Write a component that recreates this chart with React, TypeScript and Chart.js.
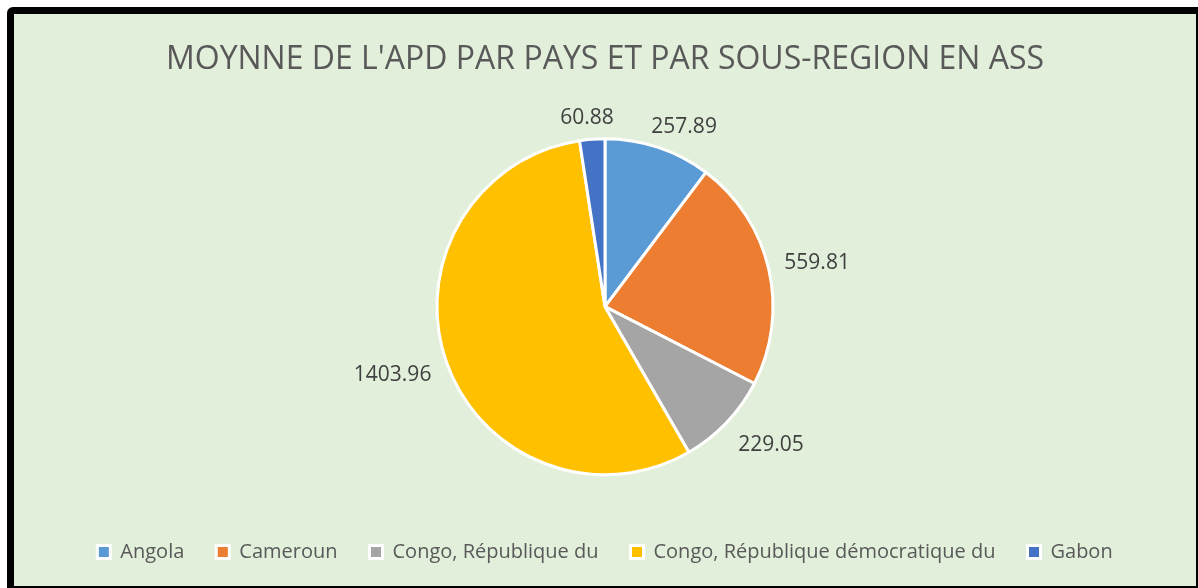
import React, { useEffect, useRef } from "react";
import { Chart, registerables } from "chart.js";

Chart.register(...registerables);

const TITLE = "MOYNNE DE L'APD PAR PAYS ET PAR SOUS-REGION EN ASS";
const countries = [
  "Angola",
  "Cameroun",
  "Congo, République du",
  "Congo, République démocratique du",
  "Gabon",
];
const values = [257.89, 559.81, 229.05, 1403.96, 60.88];
const colors = ["#5B9BD5", "#ED7D31", "#A5A5A5", "#FFC000", "#4472C4"];

const FONT = "'Open Sans', 'Noto Sans', sans-serif";

const clamp1 = (v: number) => Math.max(-1, Math.min(1, v));

const outsideLabels = {
  id: "outsideLabels",
  afterDatasetsDraw(chart: any) {
    const ctx = chart.ctx;
    const meta = chart.getDatasetMeta(0);
    const ds = chart.data.datasets[0];
    ctx.save();
    ctx.font = `21px ${FONT}`;
    ctx.fillStyle = "#404040";
    ctx.textAlign = "center";
    ctx.textBaseline = "middle";
    meta.data.forEach((arc: any, i: number) => {
      const { x, y, startAngle, endAngle, outerRadius } = arc.getProps(
        ["x", "y", "startAngle", "endAngle", "outerRadius"],
        true
      );
      const mid = (startAngle + endAngle) / 2;
      const dx = Math.cos(mid);
      const dy = Math.sin(mid);
      const text = Number(ds.data[i]).toFixed(2);
      const w = ctx.measureText(text).width;
      const halfH = dy < 0 ? 5 : 11;
      const r = outerRadius + 16;
      const px = x + dx * r + clamp1(dx * 2) * (w / 2);
      const py = y + dy * r + clamp1(dy * 2) * halfH;
      ctx.fillText(text, px, py);
    });
    ctx.restore();
  },
};

export default function App() {
  const canvasRef = useRef<HTMLCanvasElement | null>(null);

  useEffect(() => {
    if (!canvasRef.current) return;
    const chart = new Chart(canvasRef.current, {
      type: "pie",
      data: {
        labels: countries,
        datasets: [
          {
            data: values,
            backgroundColor: colors,
            borderColor: "#FFFFFF",
            borderWidth: 3,
            radius: 168,
          } as any,
        ],
      },
      options: {
        animation: false,
        responsive: true,
        maintainAspectRatio: false,
        layout: { padding: { top: 0, bottom: 14, left: 0, right: 0 } },
        plugins: {
          title: {
            display: true,
            text: TITLE,
            color: "#595959",
            font: { family: FONT, size: 32, weight: "normal" as any },
            padding: { top: 27, bottom: 24 },
          },
          legend: {
            display: true,
            position: "bottom",
            labels: {
              color: "#595959",
              font: { family: FONT, size: 20 },
              boxWidth: 13,
              boxHeight: 13,
              padding: 32,
              generateLabels(c: any) {
                const items = Chart.overrides.pie.plugins.legend.labels.generateLabels(c);
                return items.map((it: any) => ({ ...it, lineWidth: 3, strokeStyle: "#FFFFFF" }));
              },
            },
          },
          tooltip: { enabled: false },
        },
      },
      plugins: [outsideLabels],
    });
    return () => chart.destroy();
  }, []);

  return (
    <div
      style={{
        position: "fixed",
        left: 7,
        top: 7,
        right: 0,
        bottom: 0,
        boxSizing: "border-box",
        background: "#E2EFDA",
        borderLeft: "7px solid #000",
        borderTop: "7px solid #000",
        borderRight: "2px solid #000",
        borderBottom: "2px solid #000",
        borderTopLeftRadius: 6,
      }}
    >
      <div style={{ position: "relative", width: 1182, height: 572 }}>
        <canvas ref={canvasRef} />
      </div>
    </div>
  );
}
